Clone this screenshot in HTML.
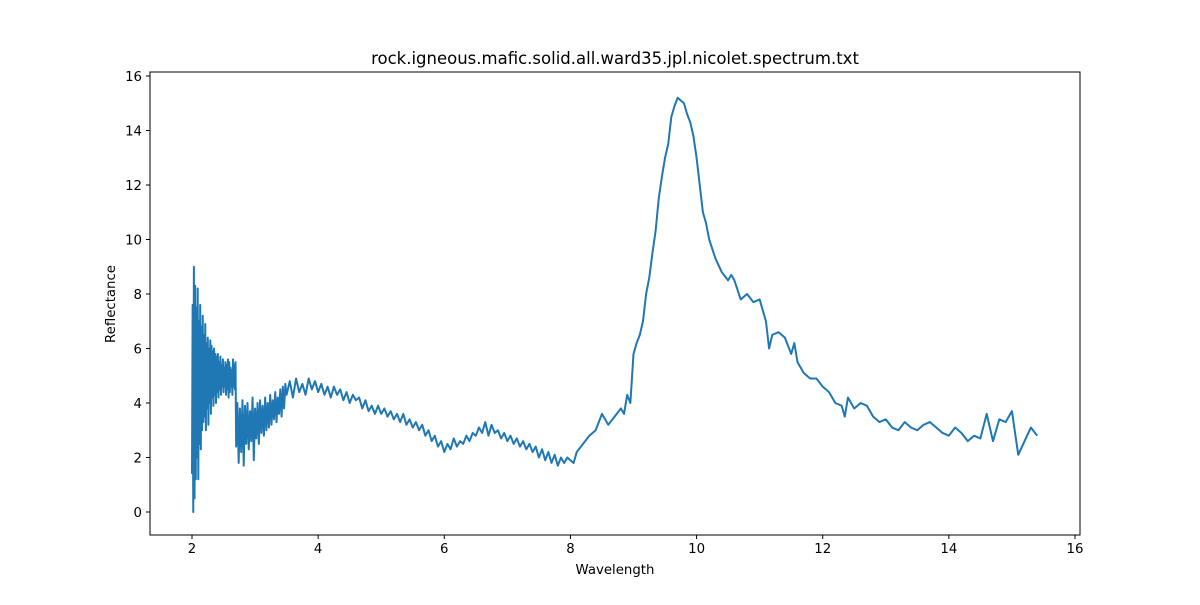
<!DOCTYPE html>
<html><head><meta charset="utf-8"><style>
body{margin:0;background:#fff;}
svg{font-family:"DejaVu Sans","Liberation Sans",sans-serif;}
</style></head><body>
<svg id="chart" width="1200" height="600" viewBox="0 0 1200 600">
<rect width="1200" height="600" fill="#fff"/>
<text x="615" y="64" text-anchor="middle" font-size="16.5">rock.igneous.mafic.solid.all.ward35.jpl.nicolet.spectrum.txt</text>
<text x="615" y="574" text-anchor="middle" font-size="13.3">Wavelength</text>
<text x="115" y="304" text-anchor="middle" font-size="13.3" transform="rotate(-90 115 304)">Reflectance</text>
<g id="xticks"></g>
<g id="yticks"></g>
<path id="line" fill="none" stroke="#1f77b4" stroke-width="2" stroke-linejoin="round"/>
<rect x="150" y="72" width="930" height="463" fill="none" stroke="#000" stroke-width="1"/>
</svg>
<script>
const xTicks=[2,4,6,8,10,12,14,16];
const yTicks=[0,2,4,6,8,10,12,14,16];
// noisy segment: starts at 2.00, step 0.01
const noisyY=[1.4,7.6,0.0,9.0,0.5,8.3,1.2,7.5,2.0,8.2,1.2,7.0,2.5,7.6,2.3,6.8,3.0,7.2,3.3,6.5,3.5,6.9,3.0,6.2,3.8,6.4,3.2,6.0,4.0,6.3,3.6,6.1,4.2,5.9,3.9,6.0,4.3,5.8,4.0,5.7,4.4,5.8,4.2,5.5,4.5,5.7,4.3,5.4,4.6,5.6,4.4,5.3,4.6,5.5,4.3,5.4,4.5,5.6,4.2,5.5,4.4,5.3,4.6,5.2,4.3,5.6,4.6,5.4,4.5,5.5];
// dip segment: starts at 2.70, step 0.02
const dipY=[2.4,4.0,1.8,3.8,2.2,4.1,1.7,3.9,2.5,4.0,2.3,3.7,2.6,4.2,1.9,3.8,2.7,4.0,2.5,4.1,2.9,3.9,2.8,4.2,3.0,4.0,3.1,4.3,3.2,4.1,3.4,4.4,3.3,4.2,3.6,4.5,3.5,4.6,3.8,4.7];
// mid segment: starts at 3.50, step 0.05
const midY=[4.3,4.8,4.2,4.9,4.4,4.7,4.3,4.9,4.5,4.8,4.4,4.7,4.3,4.6,4.2,4.6,4.3,4.5,4.1,4.4,4.0,4.3,4.1,4.2,3.8,4.1,3.7,3.9,3.6,3.9,3.6,3.8,3.5,3.7,3.4,3.6,3.3,3.6,3.2,3.4,3.1,3.3,3.0,3.2,2.8,3.0,2.6,2.8,2.4,2.6,2.2,2.5,2.3,2.7,2.4,2.6,2.5,2.8,2.6,2.9,2.8,3.1,2.9,3.3,2.8,3.2,2.9,3.0,2.7,2.9,2.6,2.8,2.5,2.7,2.4,2.6,2.3,2.5,2.2,2.4,2.0,2.3,1.9,2.2,1.8,2.1,1.7,2.0,1.8,2.0,1.9];
const peakX=[8.05,8.1,8.2,8.3,8.4,8.5,8.6,8.7,8.8,8.85,8.9,8.95,9.0,9.05,9.1,9.15,9.2,9.25,9.3,9.35,9.4,9.45,9.5,9.55,9.6,9.65,9.7,9.75,9.8,9.85,9.9,9.95,10.0,10.05,10.1,10.15,10.2,10.3,10.4,10.5,10.55,10.6,10.7,10.8,10.9,11.0,11.1,11.15,11.2,11.3,11.4,11.5,11.55,11.6,11.7,11.8,11.9,12.0,12.1,12.2,12.3,12.35,12.4,12.5,12.6,12.7,12.8,12.9,13.0,13.1,13.2,13.3,13.4,13.5,13.6,13.7,13.8,13.9,14.0,14.1,14.2,14.3,14.4,14.5,14.6,14.7,14.8,14.9,15.0,15.1,15.2,15.3,15.4];
const peakY=[1.8,2.2,2.5,2.8,3.0,3.6,3.2,3.5,3.8,3.6,4.3,4.0,5.8,6.2,6.5,7.0,8.0,8.6,9.5,10.3,11.5,12.3,13.0,13.5,14.5,14.9,15.2,15.1,15.0,14.6,14.3,13.8,13.0,12.0,11.0,10.6,10.0,9.3,8.8,8.5,8.7,8.5,7.8,8.0,7.7,7.8,7.0,6.0,6.5,6.6,6.4,5.8,6.2,5.5,5.1,4.9,4.9,4.6,4.4,4.0,3.9,3.5,4.2,3.8,4.0,3.9,3.5,3.3,3.4,3.1,3.0,3.3,3.1,3.0,3.2,3.3,3.1,2.9,2.8,3.1,2.9,2.6,2.8,2.7,3.6,2.6,3.4,3.3,3.7,2.1,2.6,3.1,2.8];

const L=150,R=1080,T=72,B=535;
const xs=v=>192+(v-2)*(1075-192)/14;
const ys=v=>512-v*(512-76)/16;
const NS="http://www.w3.org/2000/svg";
const pts=[];
noisyY.forEach((v,i)=>pts.push([2+i*0.01,v]));
dipY.forEach((v,i)=>pts.push([2.7+i*0.02,v]));
midY.forEach((v,i)=>pts.push([3.5+i*0.05,v]));
peakX.forEach((x,i)=>pts.push([x,peakY[i]]));
document.getElementById('line').setAttribute('d',pts.map((p,i)=>(i?'L':'M')+xs(p[0]).toFixed(2)+' '+ys(p[1]).toFixed(2)).join(''));
const gx=document.getElementById('xticks');
xTicks.forEach(t=>{
  const l=document.createElementNS(NS,'line');
  l.setAttribute('x1',xs(t));l.setAttribute('x2',xs(t));l.setAttribute('y1',B);l.setAttribute('y2',B+4);l.setAttribute('stroke','#000');
  
  
  gx.appendChild(l);
  const tx=document.createElementNS(NS,'text');
  tx.setAttribute('x',xs(t));tx.setAttribute('y',B+18);tx.setAttribute('text-anchor','middle');tx.setAttribute('font-size','13.3');
  tx.textContent=t;
  
  
  gx.appendChild(tx);
});
const gy=document.getElementById('yticks');
yTicks.forEach(t=>{
  const l=document.createElementNS(NS,'line');
  l.setAttribute('x1',L-4);l.setAttribute('x2',L);l.setAttribute('y1',ys(t));l.setAttribute('y2',ys(t));l.setAttribute('stroke','#000');
  
  
  gy.appendChild(l);
  const tx=document.createElementNS(NS,'text');
  tx.setAttribute('x',L-8);tx.setAttribute('y',ys(t)+5);tx.setAttribute('text-anchor','end');tx.setAttribute('font-size','13.3');
  tx.textContent=t;
  
  
  gy.appendChild(tx);
});
</script>
</body></html>
